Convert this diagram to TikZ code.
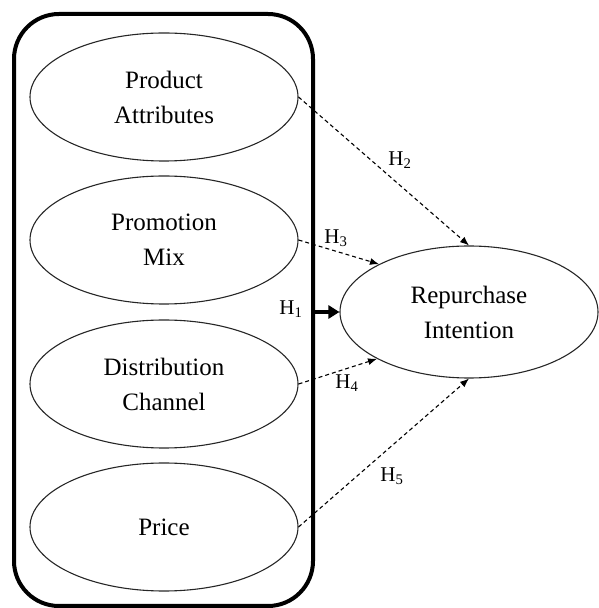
\documentclass[tikz,border=0pt]{standalone}
\usepackage{fontspec}
\setmainfont{Liberation Serif}
\usetikzlibrary{arrows.meta,shapes.geometric}
\begin{document}
\begin{tikzpicture}[x=1pt,y=1pt,
  oval/.style={draw=black!85, line width=1.1pt, ellipse, minimum width=268pt, minimum height=128pt, inner sep=0pt, align=center, font=\fontsize{25}{35}\selectfont},
  dasharrow/.style={line width=1.1pt, dash pattern=on 4pt off 3pt, -{Latex[length=9pt,width=7pt]}},
  hlab/.style={font=\fontsize{21}{24}\selectfont, inner sep=0pt}]
\useasboundingbox (0,0) rectangle (598,608);
\node[draw, line width=4pt, rounded corners=45pt, minimum width=299pt, minimum height=592pt, inner sep=0pt] (box) at (163.5,298) {};
\node[oval] (pa) at (164,511) {Product\\Attributes};
\node[oval] (pm) at (164,368) {Promotion\\Mix};
\node[oval] (dc) at (164,224) {Distribution\\Channel};
\node[oval] (pr) at (164,81) {Price};
\node[oval, minimum width=258pt, minimum height=132pt] (ri) at (469,296) {Repurchase\\Intention};
\draw[dasharrow] (pa.east) -- (ri.north);
\draw[dasharrow] (pm.east) -- (ri.152);
\draw[dasharrow] (dc.east) -- (ri.207);
\draw[dasharrow] (pr.east) -- (ri.south);
\draw[line width=3.5pt, -{Triangle[length=11pt,width=13pt]}] (box.east |- ri.west) -- (ri.west);
\node[hlab] (h1) at (291,299) {H\textsubscript{1}};
\node[hlab] (h2) at (400,448) {H\textsubscript{2}};
\node[hlab] (h3) at (336,370) {H\textsubscript{3}};
\node[hlab] (h4) at (347,225) {H\textsubscript{4}};
\node[hlab] (h5) at (392,132) {H\textsubscript{5}};
\end{tikzpicture}
\end{document}
